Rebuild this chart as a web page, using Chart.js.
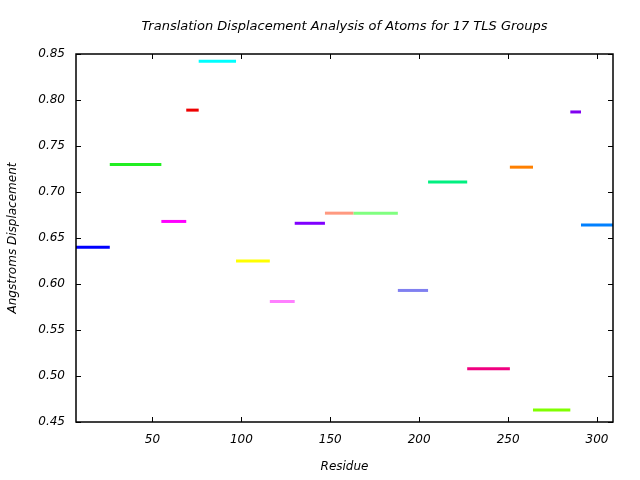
<!DOCTYPE html>
<html>
<head>
<meta charset="utf-8">
<script src="https://cdn.jsdelivr.net/npm/chart.js@4"></script>
<style>
  html, body { margin: 0; padding: 0; background: #fff; }
  #wrap { width: 640px; height: 480px; }
</style>
</head>
<body>
<div id="wrap"><canvas id="tlsChart" width="640" height="480"></canvas></div>
<script>
// TLS group segments (residue range -> displacement)
const groupStart = [7, 26, 55, 69, 76, 97, 116, 130, 147, 163, 188, 205, 227, 251, 264, 285, 291];
const groupEnd   = [26, 55, 69, 76, 97, 116, 130, 147, 163, 188, 205, 227, 251, 264, 285, 291, 310];
const groupValue = [0.640, 0.730, 0.668, 0.789, 0.842, 0.625, 0.581, 0.666, 0.677, 0.677,
                    0.593, 0.711, 0.508, 0.727, 0.463, 0.787, 0.664];
const groupColor = ['#0000ff', '#22ee22', '#ff00ff', '#ee0000', '#00ffff', '#ffff00', '#ff80ff',
                    '#8000ff', '#ff9980', '#80ff80', '#8080f0', '#00f080', '#f00080', '#ff8000',
                    '#80ff00', '#8000f0', '#0080ff'];
const xTicks = [50, 100, 150, 200, 250, 300];
const yTicks = [0.45, 0.50, 0.55, 0.60, 0.65, 0.70, 0.75, 0.80, 0.85];
const titleText = 'Translation Displacement Analysis of Atoms for 17 TLS Groups';

const font = { family: 'DejaVu Sans', size: 12, style: 'italic' };

const datasets = groupValue.map(function(v, i) {
    return {
        data: [{ x: groupStart[i], y: v }, { x: groupEnd[i], y: v }],
        borderColor: groupColor[i],
        borderWidth: 3,
        pointRadius: 0,
        showLine: true,
        fill: false
    };
});

// box + inward tick marks on all four sides, title centred over the plot
const frame = {
    id: 'frame',
    afterDatasetsDraw(chart) {
        const ctx = chart.ctx, a = chart.chartArea;
        const xs = chart.scales.x, ys = chart.scales.y;
        const len = 5;
        ctx.save();
        ctx.strokeStyle = '#000';
        ctx.lineWidth = 1;
        ctx.beginPath();
        xTicks.forEach(function(t) {
            const px = Math.round(xs.getPixelForValue(t)) + 0.5;
            ctx.moveTo(px, a.bottom); ctx.lineTo(px, a.bottom - len);
            ctx.moveTo(px, a.top); ctx.lineTo(px, a.top + len);
        });
        yTicks.forEach(function(t) {
            const py = Math.round(ys.getPixelForValue(t)) + 0.5;
            ctx.moveTo(a.left, py); ctx.lineTo(a.left + len, py);
            ctx.moveTo(a.right, py); ctx.lineTo(a.right - len, py);
        });
        ctx.stroke();
        ctx.lineWidth = 1.5;
        ctx.strokeRect(a.left, a.top, a.right - a.left, a.bottom - a.top);

        ctx.fillStyle = '#000';
        ctx.font = 'italic 13px "DejaVu Sans"';
        ctx.textAlign = 'center';
        ctx.textBaseline = 'middle';
        ctx.fillText(titleText, (a.left + a.right) / 2, 27);
        ctx.restore();
    }
};

new Chart(document.getElementById('tlsChart'), {
    type: 'scatter',
    data: { datasets: datasets },
    options: {
        responsive: false,
        animation: false,
        layout: { padding: { left: 0, right: 27, top: 54, bottom: 0 } },
        plugins: {
            legend: { display: false },
            tooltip: { enabled: false },
            title: { display: false }
        },
        scales: {
            x: {
                type: 'linear',
                min: 7,
                max: 309,
                afterBuildTicks: function(s) { s.ticks = xTicks.map(function(v) { return { value: v }; }); },
                afterFit: function(s) { s.height = 58; },
                grid: { display: false, drawTicks: false },
                border: { display: false },
                ticks: { color: '#000', font: font, padding: 11, maxRotation: 0 },
                title: { display: true, text: 'Residue', color: '#000', font: font, padding: { top: 0, bottom: 6 } }
            },
            y: {
                min: 0.45,
                max: 0.85,
                afterBuildTicks: function(s) { s.ticks = yTicks.map(function(v) { return { value: v }; }); },
                afterFit: function(s) { s.width = 76; },
                grid: { display: false, drawTicks: false },
                border: { display: false },
                ticks: {
                    color: '#000', font: font, padding: 11,
                    callback: function(v) { return v.toFixed(2); }
                },
                title: { display: true, text: 'Angstroms Displacement', color: '#000', font: font, padding: { top: 6, bottom: 0 } }
            }
        }
    },
    plugins: [frame]
});
</script>
</body>
</html>
